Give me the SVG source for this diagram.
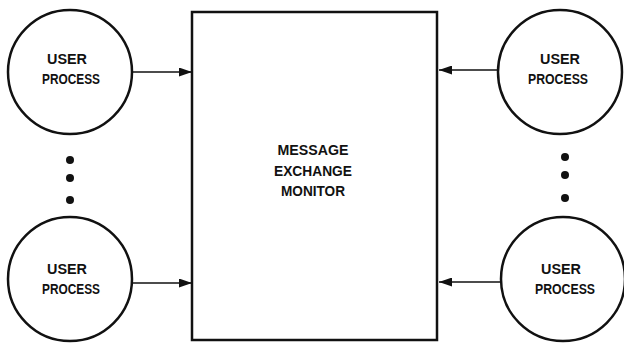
<svg xmlns="http://www.w3.org/2000/svg" width="624" height="351" viewBox="0 0 624 351">
<defs>
<marker id="ah" markerWidth="13" markerHeight="9" refX="13" refY="4.5" orient="auto" markerUnits="userSpaceOnUse">
<path d="M0,0 L13,4.5 L0,9 Z" fill="#111"/>
</marker>
<style>
.c{fill:#fff;stroke:#111;stroke-width:2.5}
.b{fill:#fff;stroke:#111;stroke-width:2.5}
.t{font-family:"Liberation Sans",Arial,sans-serif;font-weight:bold;font-size:14px;fill:#111;text-anchor:middle}
.l{stroke:#111;stroke-width:1.5;fill:none}
.d{fill:#111}
</style>
</defs>
<rect width="624" height="351" fill="#fff"/>
<g id="monitor">
<rect class="b" x="192" y="12" width="245" height="328"/>
<text class="t" x="313" y="155" textLength="71" lengthAdjust="spacingAndGlyphs">MESSAGE</text>
<text class="t" x="313" y="176" textLength="78" lengthAdjust="spacingAndGlyphs">EXCHANGE</text>
<text class="t" x="313" y="196" textLength="64" lengthAdjust="spacingAndGlyphs">MONITOR</text>
</g>
<g id="user-tl">
<circle class="c" cx="70" cy="72" r="62"/>
<text class="t" x="67" y="64" textLength="40" lengthAdjust="spacingAndGlyphs">USER</text>
<text class="t" x="71" y="84" textLength="58" lengthAdjust="spacingAndGlyphs">PROCESS</text>
</g>
<g id="user-bl">
<circle class="c" cx="70" cy="279" r="62"/>
<text class="t" x="67" y="274" textLength="40" lengthAdjust="spacingAndGlyphs">USER</text>
<text class="t" x="71" y="294" textLength="58" lengthAdjust="spacingAndGlyphs">PROCESS</text>
</g>
<g id="user-tr">
<circle class="c" cx="560" cy="72" r="62"/>
<text class="t" x="560" y="64" textLength="40" lengthAdjust="spacingAndGlyphs">USER</text>
<text class="t" x="558" y="84" textLength="60" lengthAdjust="spacingAndGlyphs">PROCESS</text>
</g>
<g id="user-br">
<circle class="c" cx="563" cy="279" r="62"/>
<text class="t" x="561" y="274" textLength="40" lengthAdjust="spacingAndGlyphs">USER</text>
<text class="t" x="565" y="294" textLength="60" lengthAdjust="spacingAndGlyphs">PROCESS</text>
</g>
<g id="dots">
<circle class="d" cx="70" cy="160" r="4"/>
<circle class="d" cx="70" cy="178" r="4"/>
<circle class="d" cx="70" cy="200" r="4"/>
<circle class="d" cx="565" cy="157" r="4"/>
<circle class="d" cx="565" cy="175" r="4"/>
<circle class="d" cx="565" cy="198" r="4"/>
</g>
<g id="connectors">
<line class="l" x1="132" y1="72" x2="192" y2="72" marker-end="url(#ah)"/>
<line class="l" x1="132" y1="283" x2="192" y2="283" marker-end="url(#ah)"/>
<line class="l" x1="498" y1="70" x2="439" y2="70" marker-end="url(#ah)"/>
<line class="l" x1="501" y1="282" x2="439" y2="282" marker-end="url(#ah)"/>
</g>
</svg>
